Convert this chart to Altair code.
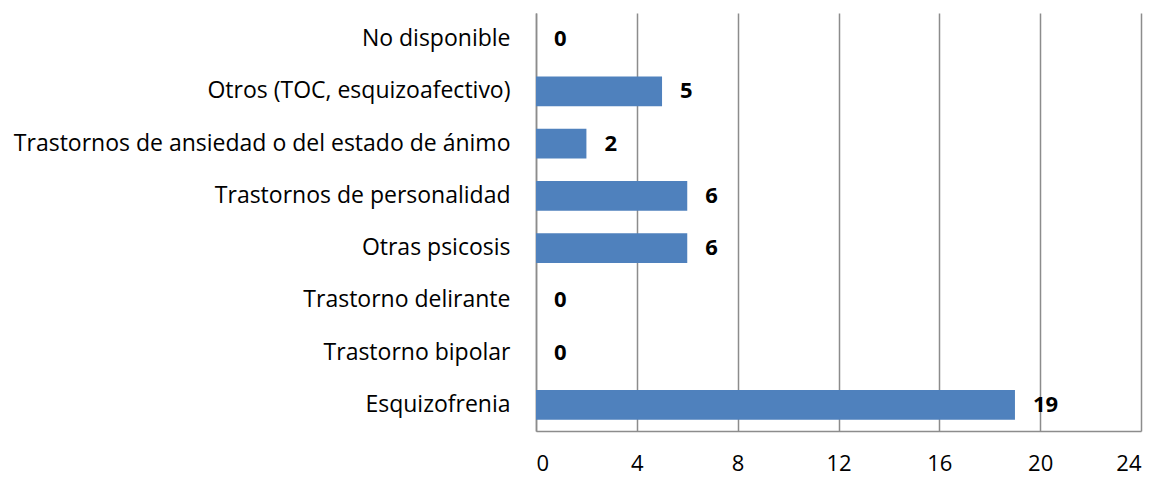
import altair as alt
import pandas as pd

categories = [
    "No disponible",
    "Otros (TOC, esquizoafectivo)",
    "Trastornos de ansiedad o del estado de ánimo",
    "Trastornos de personalidad",
    "Otras psicosis",
    "Trastorno delirante",
    "Trastorno bipolar",
    "Esquizofrenia",
]
values = [0, 5, 2, 6, 6, 0, 0, 19]
x_ticks = [0, 4, 8, 12, 16, 20, 24]

df = pd.DataFrame({"cat": categories, "val": values})
FONT = "Open Sans"
GRID = "#8c8c8c"

y_enc = alt.Y("cat:N", sort=categories, title=None,
              scale=alt.Scale(paddingInner=0.43, paddingOuter=0.215),
              axis=alt.Axis(labelFont=FONT, labelFontSize=23, labelColor="#000000",
                            labelPadding=26, ticks=False, domainColor=GRID,
                            domainWidth=1.5, labelLimit=700))
x_enc = alt.X("val:Q", title=None,
              scale=alt.Scale(domain=[0, 24], nice=False),
              axis=alt.Axis(values=x_ticks, labelFont=FONT, labelFontSize=22,
                            labelColor="#000000", labelPadding=22, ticks=False,
                            grid=True, gridColor=GRID, gridWidth=1.5,
                            domainColor=GRID, domainWidth=1.5))

bars = alt.Chart(df).mark_bar(color="#4F81BD").encode(x=x_enc, y=y_enc)
labels = alt.Chart(df).mark_text(align="left", baseline="middle", dx=18,
                                 font=FONT, fontSize=22, fontWeight="bold",
                                 color="#000000").encode(
    x="val:Q", y=alt.Y("cat:N", sort=categories), text="val:Q")

chart = (bars + labels).properties(
    width=605, height=418,
    padding={"left": 5, "top": 5, "right": 5, "bottom": 6},
).configure_view(stroke=None)

chart.save("out.html", embed_options={"renderer": "svg", "actions": False})
